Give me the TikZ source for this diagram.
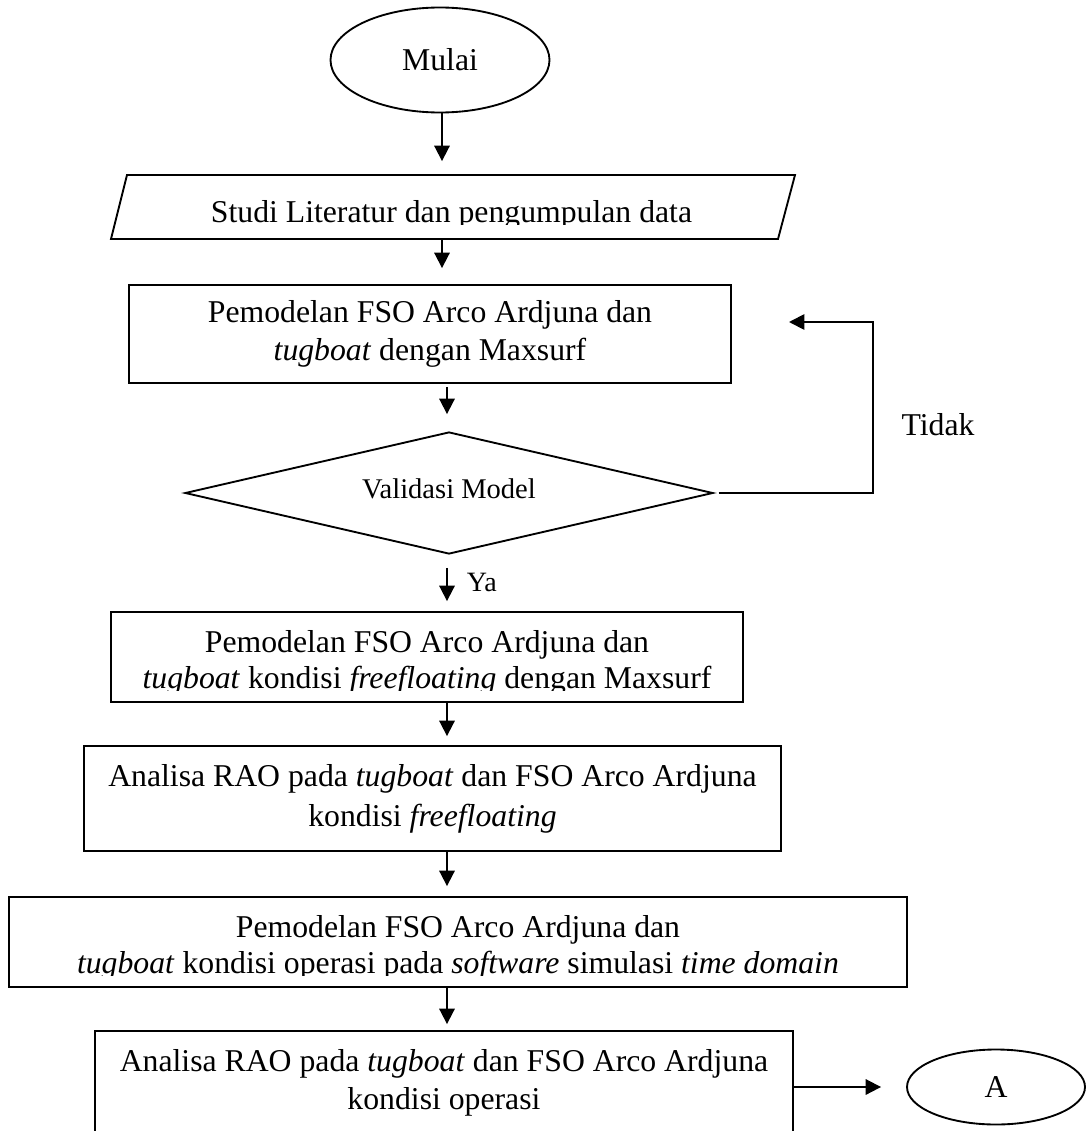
\documentclass[tikz,border=0pt]{standalone}
\usepackage{fontspec}
\setmainfont{Liberation Serif}
\usetikzlibrary{arrows.meta,shapes.geometric}

\begin{document}
\begin{tikzpicture}[x=0.75pt, y=-0.75pt,
  line width=1.4pt,
  every node/.style={font=\fontsize{23.8}{28.5}\selectfont, inner sep=0pt},
  box/.style={draw, rectangle, align=center},
  oval/.style={draw, ellipse},
  lbl/.style={anchor=base},
  smalltxt/.style={font=\fontsize{21.4}{25}\selectfont},
  yatxt/.style={font=\fontsize{21}{25}\selectfont},
  arr/.style={-{Triangle[length=11.5pt,width=11.5pt]}},
]
\useasboundingbox (0,0) rectangle (1086,1131);

% Start
\node[oval, minimum width=164.25pt, minimum height=78.75pt] (mulai) at (440,60) {Mulai};

% Parallelogram (data)
\node[minimum width=513pt, minimum height=48pt] (studi) at (453,207) {};
\draw (127,175) -- (795,175) -- (778,239) -- (111,239) -- cycle;
\begin{scope}
  \clip (0,0) rectangle (1086,224);
  \node[lbl] (studitxt) at (451.5,222) {Studi Literatur dan pengumpulan data};
\end{scope}

% Box 1
\node[box, minimum width=451.5pt, minimum height=73.5pt] (box1) at (430,334)
  {Pemodelan FSO Arco Ardjuna dan\\\textit{tugboat} dengan Maxsurf};

% Decision
\node[draw, diamond, aspect=4.33, minimum width=396pt, minimum height=91.5pt, smalltxt, text depth=7pt] (valid) at (449,493) {Validasi Model};
\coordinate (loopend) at (789,322);
\node (tidak) at (938,425) {Tidak};

% Box 2
\node[draw, minimum width=474pt, minimum height=67.5pt] (box2) at (427,657) {};
\node[lbl] (box2a) at (427,652) {Pemodelan FSO Arco Ardjuna dan};
\begin{scope}
  \clip (0,0) rectangle (1086,690);
  \node[lbl] (box2b) at (427,688) {\textit{tugboat} kondisi \textit{freefloating} dengan Maxsurf};
\end{scope}

% Box 3
\node[box, minimum width=522.75pt, minimum height=78.75pt] (box3) at (432.5,798.5)
  {Analisa RAO pada \textit{tugboat} dan FSO Arco Ardjuna\\[1.5pt]kondisi \textit{freefloating}};

% Box 4
\node[draw, minimum width=673.5pt, minimum height=67.5pt] (box4) at (458,942) {};
\node[lbl] (box4a) at (458,937) {Pemodelan FSO Arco Ardjuna dan};
\begin{scope}
  \clip (0,0) rectangle (1086,975);
  \node[lbl] (box4b) at (458,973) {\textit{tugboat} kondisi operasi pada \textit{software} simulasi \textit{time domain}};
\end{scope}

% Box 5 (open at the bottom edge)
\node[align=center, minimum width=522pt, minimum height=76.5pt] (box5) at (444,1083)
  {Analisa RAO pada \textit{tugboat} dan FSO Arco Ardjuna\\kondisi operasi};
\draw (box5.south west) -- (box5.north west) -- (box5.north east) -- (box5.south east);

% Connector A
\node[oval, minimum width=133.5pt, minimum height=56.25pt] (aa) at (996,1087) {A};

% Connectors
\coordinate (colx) at (447,0);
\draw[arr, shorten >=9.75pt] ([xshift=1.5pt]mulai.south) -- ([xshift=1.5pt]mulai.south |- studi.north);
\draw[arr, shorten >=12pt] ([xshift=1.5pt]mulai.south |- studi.south) -- ([xshift=1.5pt]mulai.south |- box1.north);
\draw[arr, shorten <=2.25pt, shorten >=12.75pt] (colx |- box1.south) -- (colx |- valid.north);
\draw[arr] ([xshift=3.5pt]valid.east) -- ++(154,0) |- (loopend);
\draw[arr, shorten <=9.75pt, shorten >=7.5pt] (valid.south -| colx) -- (colx |- box2.north);
\node[lbl, yatxt, anchor=base west] (ya) at (466,591) {Ya};
\draw[arr, shorten >=6.75pt] (colx |- box2.south) -- (colx |- box3.north);
\draw[arr, shorten >=7.5pt] (colx |- box3.south) -- (colx |- box4.north);
\draw[arr, shorten >=5.25pt] (colx |- box4.south) -- (colx |- box5.north);
\draw[arr, shorten >=18.75pt] (aa.west -| box5.east) -- (aa.west);
\end{tikzpicture}
\end{document}
